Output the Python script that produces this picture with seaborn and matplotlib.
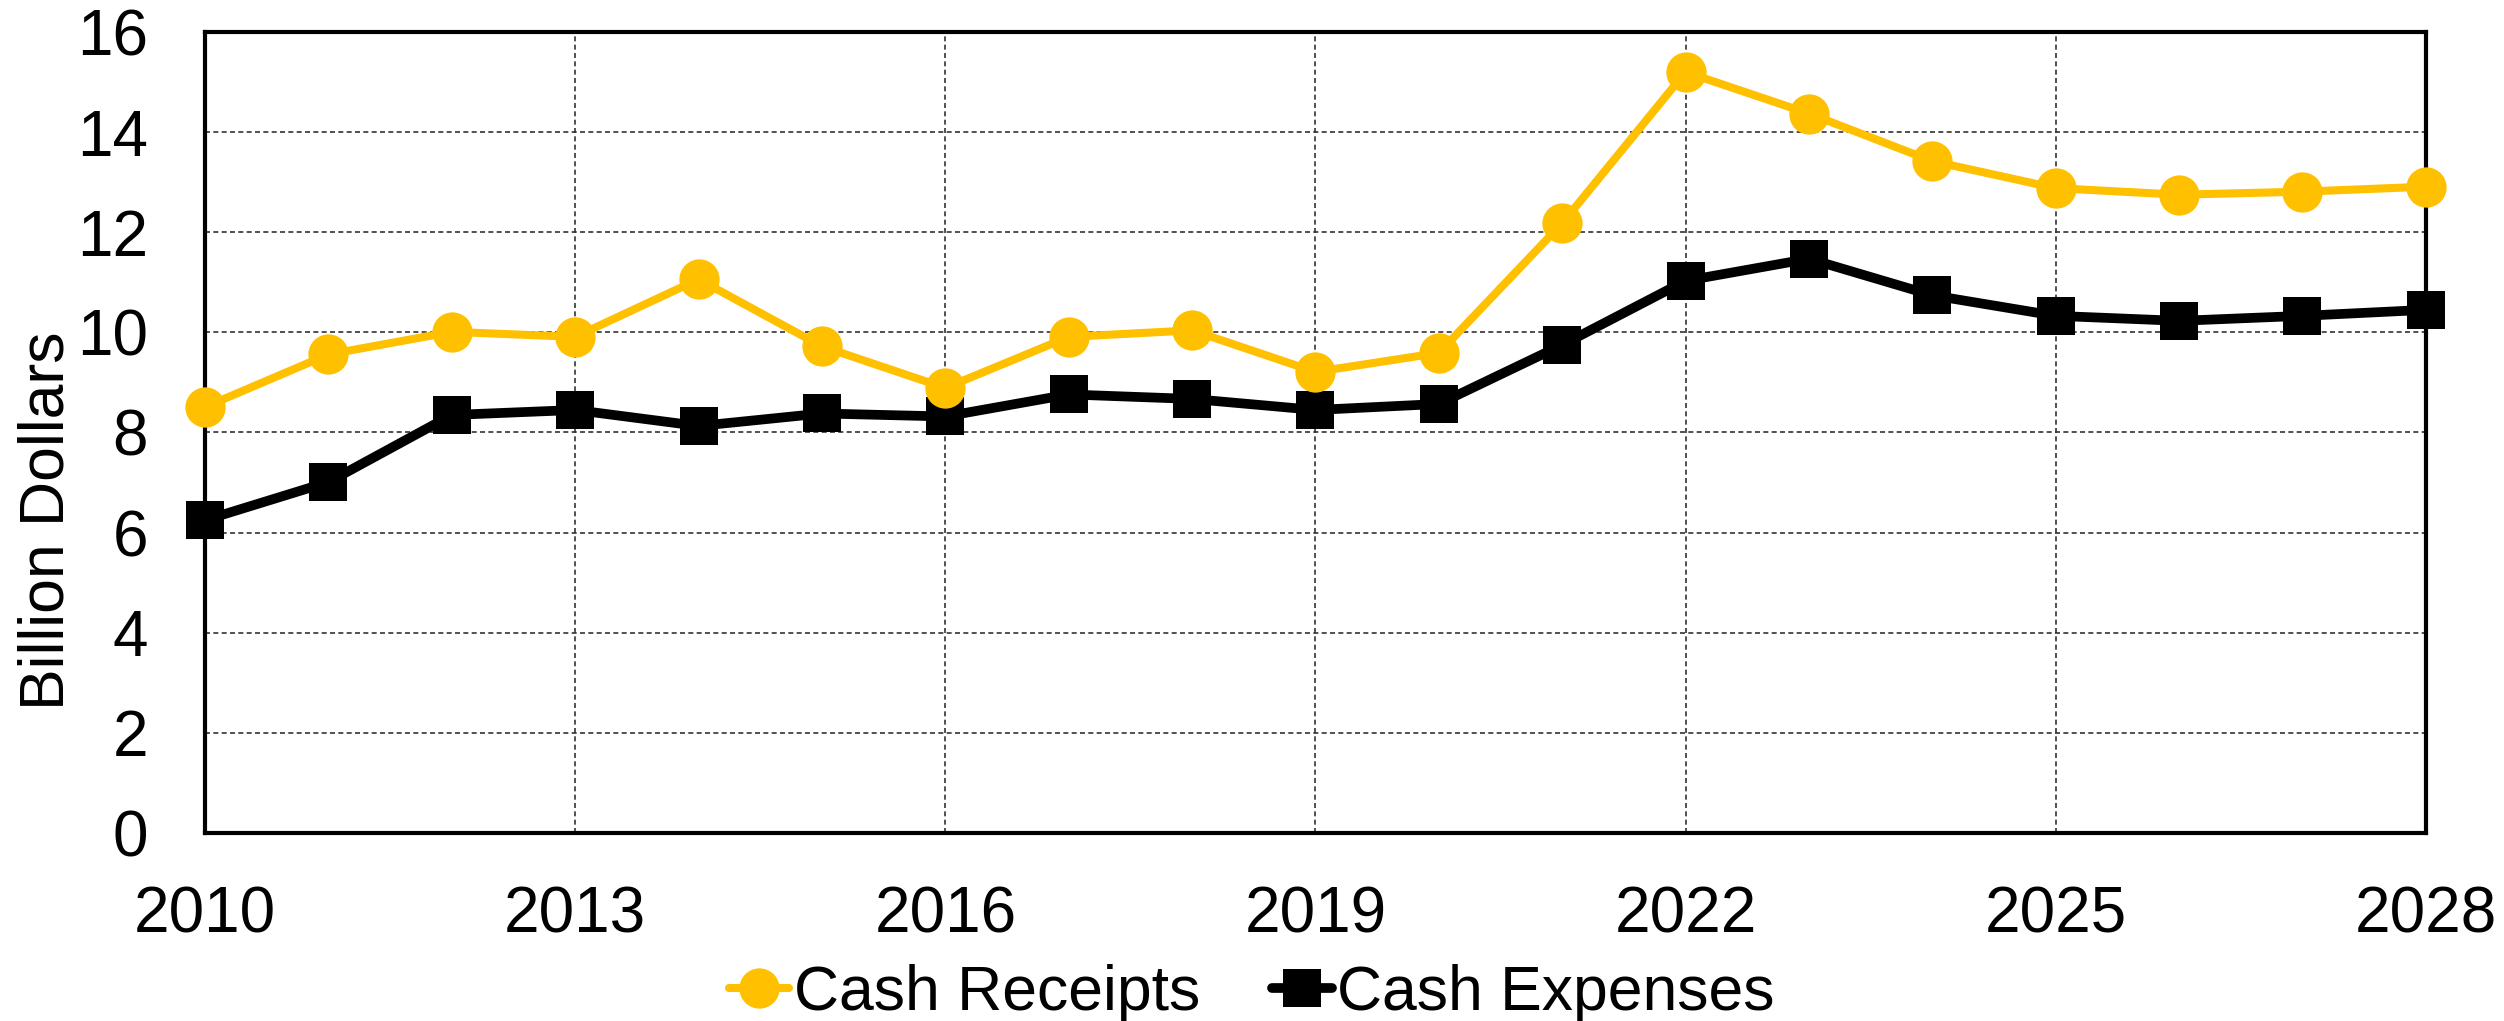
import matplotlib
matplotlib.use("Agg")
import matplotlib.pyplot as plt
import seaborn as sns

years = list(range(2010, 2029))
cash_receipts = [8.51, 9.56, 10.01, 9.91, 11.06, 9.72, 8.89, 9.91, 10.04, 9.21,
                 9.59, 12.18, 15.20, 14.37, 13.42, 12.88, 12.75, 12.81, 12.91]
cash_expenses = [6.25, 7.01, 8.35, 8.45, 8.13, 8.38, 8.32, 8.76, 8.67, 8.45,
                 8.57, 9.75, 11.03, 11.47, 10.74, 10.33, 10.23, 10.33, 10.45]
x_ticks = [2010, 2013, 2016, 2019, 2022, 2025, 2028]
y_ticks = [0, 2, 4, 6, 8, 10, 12, 14, 16]

sns.set_style("white")
plt.rcParams['font.family'] = ['Liberation Sans', 'DejaVu Sans']
plt.rcParams['text.color'] = 'black'
plt.rcParams['xtick.color'] = 'black'
plt.rcParams['ytick.color'] = 'black'
plt.rcParams['axes.labelcolor'] = 'black'

fig, ax = plt.subplots(figsize=(25.04, 10.21), dpi=100)
fig.subplots_adjust(left=0.0819, right=0.9688, top=0.9687, bottom=0.1841)

# expenses first so the gold circles sit on top where they overlap
sns.lineplot(x=years, y=cash_expenses, ax=ax, color='black', linewidth=7,
             marker='s', markersize=27, markeredgewidth=0,
             label='Cash Expenses', clip_on=False, zorder=3)
sns.lineplot(x=years, y=cash_receipts, ax=ax, color='#FFC000', linewidth=5.8,
             marker='o', markersize=29, markeredgewidth=0,
             label='Cash Receipts', clip_on=False, zorder=4)

ax.set_xlim(2010, 2028)
ax.set_ylim(0, 16)
ax.set_xticks(x_ticks)
ax.set_yticks(y_ticks)
ax.tick_params(axis='both', which='both', length=0, labelsize=46)
ax.tick_params(axis='x', pad=38)
ax.tick_params(axis='y', pad=41)
ax.set_xlabel('')
ax.set_ylabel('Billion Dollars', fontsize=45)
ax.yaxis.set_label_coords(-0.058, 0.39)

ax.grid(True, color='#333333', linestyle=(0, (3, 2)), linewidth=1.2)
for s in ax.spines.values():
    s.set_visible(True)
    s.set_color('black')
    s.set_linewidth(3)

handles, labels = ax.get_legend_handles_labels()
order = [labels.index('Cash Receipts'), labels.index('Cash Expenses')]
ax.legend([handles[i] for i in order], [labels[i] for i in order],
          loc='center', bbox_to_anchor=(0.5, 0.027), bbox_transform=fig.transFigure,
          ncol=2, frameon=False, fontsize=45, handlelength=0.96,
          handletextpad=0.08, columnspacing=1.15, borderpad=0, markerscale=1.0)

fig.savefig('out.png', dpi=100)
